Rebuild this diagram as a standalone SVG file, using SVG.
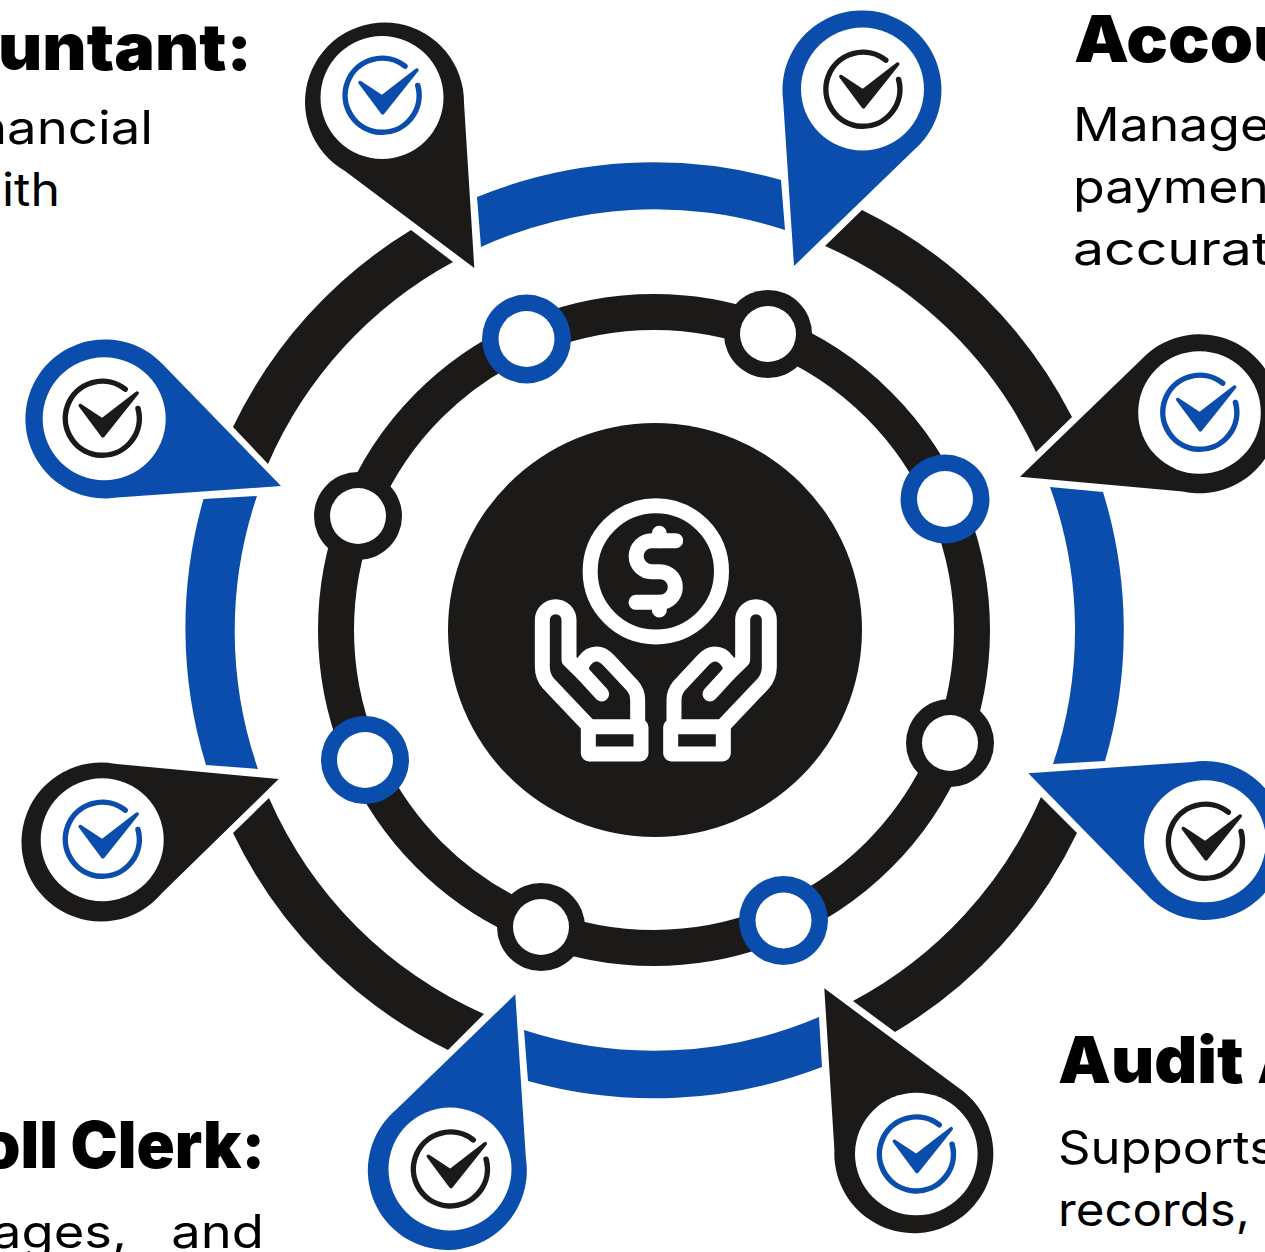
<svg xmlns="http://www.w3.org/2000/svg" width="1265" height="1252" viewBox="0 0 1265 1252">
<style>
.k{fill:#1c1a19}.b{fill:#0a4dad}.w{fill:#fff}
.ik{color:#1c1a19}.ib{color:#0a4dad}
.h{font-family:Inter,"Liberation Sans",sans-serif;font-weight:900;font-size:65px;fill:#000}
.t{font-family:Inter,"Liberation Sans",sans-serif;font-weight:400;font-size:46px;fill:#000}
.ws{fill:none;stroke:#fff;stroke-width:45;stroke-linecap:round;stroke-linejoin:round}
</style>
<defs>
<g id="check">
<path d="M23,-28.8A37,37 0 1 0 35.8,-9.500" fill="none" stroke="currentColor" stroke-width="5.500" stroke-linecap="round"/>
<path d="M-22,-12.500L0,2L35,-25L0.700,18Z" fill="currentColor" stroke="currentColor" stroke-width="3.500" stroke-linejoin="round"/>
</g>
<g id="hand">
<path class="ws" d="M305,672L250,612C232,590 262,552 290,552C305,552 318,562 328,573L398,648C408,660 413,672 413,690L413,770"/>
<path class="ws" d="M268,770L145,640C132,625 127,610 127,590L127,450A40,40 0 0 1 207,450L207,570L250,612"/>
<rect class="ws" x="265" y="770" width="158" height="82" rx="2"/>
</g>
</defs>
<rect class="w" width="1265" height="1252"/>
<g id="connectors">
<circle cx="654" cy="630" r="318" fill="none" stroke="#1c1a19" stroke-width="36"/>
<path class="b" d="M477,197A467.500,467.500 0 0 1 781,180L785,230A420,420 0 0 0 481,247Z"/>
<path class="k" d="M862,210A467.500,467.500 0 0 1 1072,417L1036,452A420,420 0 0 0 825,246Z"/>
<path class="b" d="M1103,492A467.500,467.500 0 0 1 1105,761L1053,764A420,420 0 0 0 1050,487Z"/>
<path class="k" d="M1077,833A467.500,467.500 0 0 1 895,1032L853,1001A420,420 0 0 0 1041,797Z"/>
<path class="b" d="M822,1067A467.500,467.500 0 0 1 528,1081L524,1030A420,420 0 0 0 819,1017Z"/>
<path class="k" d="M448,1050A467.500,467.500 0 0 1 233,833L269,798A420,420 0 0 0 484,1014Z"/>
<path class="b" d="M206,765A467.500,467.500 0 0 1 203.500,499L257,496A420,420 0 0 0 258,769Z"/>
<path class="k" d="M233,427A467.500,467.500 0 0 1 411,230L453,262A420,420 0 0 0 268,464Z"/>
</g>
<g id="center">
<circle class="k" cx="655" cy="630" r="207"/>
<g transform="translate(500 470) scale(.33333)">
<circle cx="467.500" cy="304" r="197" fill="none" stroke="#fff" stroke-width="45"/>
<path class="ws" d="M527,212L455,212A46.500,46.500 0 0 0 455,305L480,305A46,46 0 0 1 480,397L408,397"/>
<path class="ws" d="M478,190L478,212M478,397L478,420"/>
<use href="#hand"/>
<use href="#hand" transform="translate(935 0) scale(-1 1)"/>
</g>
</g>
<g id="bead-1"><circle class="b" cx="526.500" cy="339" r="44.500"/><circle class="w" cx="526.500" cy="339" r="28"/></g>
<g id="bead-2"><circle class="k" cx="768" cy="334" r="44"/><circle class="w" cx="768" cy="334" r="28"/></g>
<g id="bead-3"><circle class="b" cx="945" cy="499" r="44.500"/><circle class="w" cx="945" cy="499" r="28"/></g>
<g id="bead-4"><circle class="k" cx="950" cy="743" r="44"/><circle class="w" cx="950" cy="743" r="28"/></g>
<g id="bead-5"><circle class="b" cx="783.500" cy="920.500" r="44.500"/><circle class="w" cx="783.500" cy="920.500" r="28"/></g>
<g id="bead-6"><circle class="k" cx="541" cy="927" r="44"/><circle class="w" cx="541" cy="927" r="28"/></g>
<g id="bead-7"><circle class="b" cx="365" cy="760" r="44"/><circle class="w" cx="365" cy="760" r="28"/></g>
<g id="bead-8"><circle class="k" cx="358" cy="516" r="44"/><circle class="w" cx="358" cy="516" r="28"/></g>
<g id="pin-accountant">
<path class="k" d="M474.300,268L464,103A79.500,79.500 0 1 0 345.300,171.200Z"/>
<circle class="w" cx="382" cy="97.500" r="61.500"/>
<use href="#check" class="ib" x="382" y="95"/>
<text class="h" x="-2" y="70" textLength="254" lengthAdjust="spacingAndGlyphs">untant:</text>
<text class="t" x="-24" y="144" textLength="177" lengthAdjust="spacingAndGlyphs">nancial</text>
<text class="t" x="2" y="206" textLength="58" lengthAdjust="spacingAndGlyphs">ith</text>
</g>
<g id="pin-accounts">
<path class="b" d="M794,266L783.100,100.100A79.500,79.500 0 1 1 914,150Z"/>
<circle class="w" cx="862.500" cy="89" r="61.500"/>
<use href="#check" class="ik" x="862.800" y="89"/>
<text class="h" x="1074" y="61.700" textLength="224" lengthAdjust="spacingAndGlyphs">Accou</text>
<text class="t" x="1073" y="141" textLength="197" lengthAdjust="spacingAndGlyphs">Manage</text>
<text class="t" x="1073" y="203" textLength="196" lengthAdjust="spacingAndGlyphs">paymen</text>
<text class="t" x="1073" y="265" textLength="197" lengthAdjust="spacingAndGlyphs">accurat</text>
</g>
<g id="pin-right-upper">
<path class="k" d="M1020,476.700L1142.400,358.400A79.500,79.500 0 1 1 1182.900,491.500Z"/>
<circle class="w" cx="1199.500" cy="412.500" r="61.300"/>
<use href="#check" class="ib" x="1199.700" y="412"/>
</g>
<g id="pin-left-upper">
<path class="b" d="M281,486L162.200,363.800A79.500,79.500 0 1 0 117,497.500Z"/>
<circle class="w" cx="104.200" cy="418.700" r="61.500"/>
<use href="#check" class="ik" x="102.200" y="418"/>
</g>
<g id="pin-right-lower">
<path class="b" d="M1028.300,773.300L1192.900,761.900A79.500,79.500 0 1 1 1145.300,893Z"/>
<circle class="w" cx="1205" cy="841.300" r="61"/>
<use href="#check" class="ik" x="1205.300" y="841"/>
</g>
<g id="pin-audit">
<path class="k" d="M824.300,988.300L834.400,1150A79.500,79.500 0 1 0 958.100,1087.600Z"/>
<circle class="w" cx="916.300" cy="1154" r="61.300"/>
<use href="#check" class="ib" x="916.300" y="1153.700"/>
<text class="h" x="1058" y="1083" textLength="252" lengthAdjust="spacingAndGlyphs">Audit A</text>
<text class="t" x="1058" y="1164" textLength="218" lengthAdjust="spacingAndGlyphs">Supports</text>
<text class="t" x="1058" y="1226" textLength="192" lengthAdjust="spacingAndGlyphs">records,</text>
</g>
<g id="pin-payroll">
<path class="b" d="M515.300,994.300L525.900,1158.300A79.500,79.500 0 1 1 396.300,1109.500Z"/>
<circle class="w" cx="450" cy="1169" r="61.500"/>
<use href="#check" class="ik" x="450.300" y="1168.700"/>
<text class="h" x="-19" y="1168" textLength="284" lengthAdjust="spacingAndGlyphs">oll Clerk:</text>
<text class="t" x="-8" y="1248" textLength="272" lengthAdjust="spacingAndGlyphs" xml:space="preserve">ages,   and</text>
</g>
<g id="pin-left-lower">
<path class="k" d="M278.700,779L116.700,764.100A79.500,79.500 0 1 0 162,893Z"/>
<circle class="w" cx="102.200" cy="839.700" r="61.500"/>
<use href="#check" class="ib" x="102.200" y="839"/>
</g>
</svg>
